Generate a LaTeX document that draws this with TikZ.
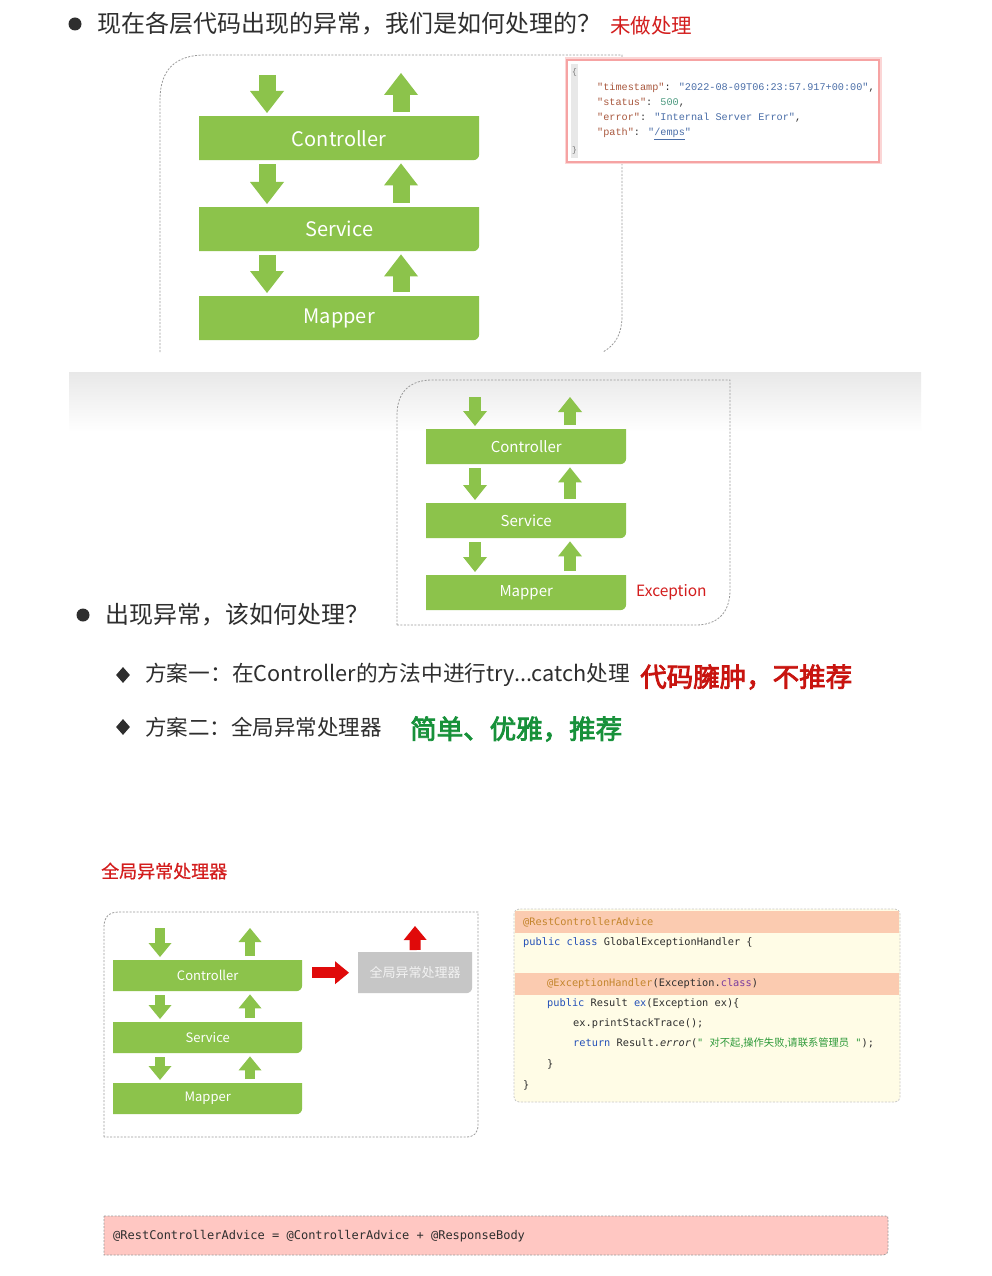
\documentclass[tikz,border=0pt]{standalone}
\usepackage{fontspec}
\setmainfont{Noto Sans CJK SC}
\setmonofont{DejaVu Sans Mono}
\newfontfamily\jsonfont{Liberation Mono}
\newfontfamily\cjk{Noto Sans CJK SC}
\newfontfamily\brushfont{Noto Sans CJK SC}[FakeBold=3]
\newfontfamily\headfont{Noto Sans CJK SC}[FakeBold=0.6]
\usetikzlibrary{arrows.meta,shapes.geometric}
\definecolor{layerGreen}{HTML}{8CC34B}
\definecolor{textDark}{HTML}{2E2E2E}
\definecolor{alertRed}{HTML}{D31D1D}
\definecolor{brushRed}{HTML}{C8140F}
\definecolor{praiseGreen}{HTML}{17913A}
\definecolor{frameGray}{HTML}{9A9A9A}
\definecolor{jsonPink}{HTML}{F6A3A3}
\definecolor{jsonKey}{HTML}{A9583E}
\definecolor{jsonVal}{HTML}{4A6EA8}
\definecolor{jsonNum}{HTML}{4C9A80}
\definecolor{codeBg}{HTML}{FFFCE6}
\definecolor{codeMark}{HTML}{FBCBB0}
\definecolor{codeAnno}{HTML}{C4862E}
\definecolor{codeKw}{HTML}{2450B8}
\definecolor{codePurple}{HTML}{7A3C9E}
\definecolor{codeStr}{HTML}{2E9A3A}
\definecolor{handlerGray}{HTML}{C6C6C6}
\definecolor{noteRose}{HTML}{FFC7C2}
\definecolor{arrowRed}{HTML}{E00A0A}
\tikzset{
  frame/.style={frameGray, line width=0.8pt, dash pattern=on 2pt off 1.5pt},
  cornerfill/.style={path picture={\fill[#1] (path picture bounding box.north west)
    -- (path picture bounding box.north east)
    -- ([yshift=6pt]path picture bounding box.south east)
    arc[start angle=0, end angle=-90, radius=6pt]
    -- (path picture bounding box.south west) -- cycle;}},
  layer/.style={cornerfill=layerGreen, text=white, inner sep=0pt, anchor=north west},
  layerBig/.style={layer, minimum width=280pt, minimum height=44pt, font=\fontsize{20}{24}\selectfont},
  layerMid/.style={layer, minimum width=200pt, minimum height=35pt, font=\fontsize{15}{18}\selectfont},
  layerLow/.style={layer, minimum width=189pt, minimum height=31pt, font=\fontsize{13}{16}\selectfont},
  flowBig/.style={layerGreen, line width=17pt, shorten <=4pt, shorten >=3pt,
    -{Triangle[length=22pt, width=34pt, line width=0pt]}},
  flowMid/.style={layerGreen, line width=12pt, shorten <=4pt, shorten >=3pt,
    -{Triangle[length=15pt, width=24pt, line width=0pt]}},
  flowLow/.style={layerGreen, line width=10pt, shorten <=4pt, shorten >=3pt,
    -{Triangle[length=14pt, width=23pt, line width=0pt]}},
  alarm/.style={arrowRed, line width=11pt,
    -{Triangle[length=14pt, width=23pt, line width=0pt]}},
  txt/.style={anchor=west, inner sep=0pt, text=textDark},
  dot/.style={circle, fill=textDark, minimum size=13pt, inner sep=0pt},
  gem/.style={diamond, fill=textDark, minimum width=14pt, minimum height=16pt, inner sep=0pt},
  json/.style={anchor=west, inner sep=0pt, text=jsonKey, font=\jsonfont\fontsize{10.2}{12}\selectfont},
  code/.style={anchor=west, inner sep=0pt, text=textDark, font=\ttfamily\fontsize{10.3}{12}\selectfont},
}

\begin{document}
\begin{tikzpicture}[x=1pt, y=-1pt]
  \useasboundingbox[fill=white] (0,0) rectangle (991,1276);

  % first question: untreated exception
  \node[dot] (bulA) at (75,24) {};
  \node[txt, font=\fontsize{24}{27}\selectfont] (askA) at (97,24) {现在各层代码出现的异常，我们是如何处理的？};
  \node[txt, text=alertRed, font=\fontsize{20.5}{24}\selectfont] (askAnote) at (610,26) {未做处理};

  \draw[frame] (160,352) -- (160,100) .. controls (160,70) and (175,55) .. (205,55)
    -- (622,55) -- (622,315) .. controls (622,335) and (615,345) .. (603,352);
  \node[layerBig] (ctrlTop) at (199,116) {Controller};
  \node[layerBig] (svcTop) at (199,207) {Service};
  \node[layerBig] (mapTop) at (199,296) {Mapper};
  \coordinate (inTop) at (267,71);
  \coordinate (outTop) at (401,70);
  \draw[flowBig] (inTop) -- ([xshift=68pt]ctrlTop.north west);
  \draw[flowBig] ([xshift=202pt]ctrlTop.north west) -- (outTop);
  \draw[flowBig] ([xshift=68pt]ctrlTop.south west) -- ([xshift=68pt]svcTop.north west);
  \draw[flowBig] ([xshift=202pt]svcTop.north west) -- ([xshift=202pt]ctrlTop.south west);
  \draw[flowBig] ([xshift=68pt]svcTop.south west) -- ([xshift=68pt]mapTop.north west);
  \draw[flowBig] ([xshift=202pt]mapTop.north west) -- ([xshift=202pt]svcTop.south west);

  % default error response
  \draw[jsonPink!45, line width=5pt] (567,60) rectangle (879,162);
  \draw[jsonPink, line width=2pt, fill=white] (567,60) rectangle (879,162);
  \fill[black!9] (571,64) rectangle (578,158);
  \node[inner sep=0pt, text=black!55, font=\jsonfont\fontsize{8}{9}\selectfont] (brOpen) at (574.5,72) {\{};
  \node[inner sep=0pt, text=black!55, font=\jsonfont\fontsize{8}{9}\selectfont] (brClose) at (574.5,150) {\}};
  \node[json] (jsA) at (597,88) {"timestamp"\textcolor{textDark}{: }\textcolor{jsonVal}{"2022-08-09T06:23:57.917+00:00"}\textcolor{textDark}{,}};
  \node[json] (jsB) at (597,103) {"status"\textcolor{textDark}{: }\textcolor{jsonNum}{500}\textcolor{textDark}{,}};
  \node[json] (jsC) at (597,118) {"error"\textcolor{textDark}{: }\textcolor{jsonVal}{"Internal Server Error"}\textcolor{textDark}{,}};
  \node[json] (jsD) at (597,134) {"path"\textcolor{textDark}{: }\textcolor{jsonVal}{"\underline{/emps}"}};

  % second question: how to handle it
  \shade[top color=black!9, bottom color=white] (69,372) rectangle (921,432);
  \draw[frame] (397,625) -- (397,415) .. controls (397,392) and (410,380) .. (432,380)
    -- (730,380) -- (730,590) .. controls (730,612) and (718,625) .. (696,625) -- cycle;
  \node[layerMid] (ctrlMid) at (426,429) {Controller};
  \node[layerMid] (svcMid) at (426,503) {Service};
  \node[layerMid] (mapMid) at (426,575) {Mapper};
  \coordinate (inMid) at (475,393);
  \coordinate (outMid) at (570,394);
  \draw[flowMid] (inMid) -- ([xshift=49pt]ctrlMid.north west);
  \draw[flowMid] ([xshift=144pt]ctrlMid.north west) -- (outMid);
  \draw[flowMid] ([xshift=49pt]ctrlMid.south west) -- ([xshift=49pt]svcMid.north west);
  \draw[flowMid] ([xshift=144pt]svcMid.north west) -- ([xshift=144pt]ctrlMid.south west);
  \draw[flowMid] ([xshift=49pt]svcMid.south west) -- ([xshift=49pt]mapMid.north west);
  \draw[flowMid] ([xshift=144pt]mapMid.north west) -- ([xshift=144pt]svcMid.south west);
  \node[txt, text=alertRed, font=\fontsize{15.5}{18}\selectfont] (exc) at (636,592) {Exception};

  \node[dot] (bulB) at (83,615) {};
  \node[txt, font=\fontsize{24}{27}\selectfont] (askB) at (105,615) {出现异常，该如何处理？};
  \node[gem] (gemA) at (123,675) {};
  \node[txt, font=\fontsize{21.7}{25}\selectfont] (planA) at (145,675) {方案一：在Controller的方法中进行try...catch处理};
  \node[txt, text=brushRed, font=\brushfont\fontsize{26.5}{28}\selectfont] (planAnote) at (640,677) {代码臃肿，不推荐};
  \node[gem] (gemB) at (123,727) {};
  \node[txt, font=\fontsize{21.5}{25}\selectfont] (planB) at (145,727) {方案二：全局异常处理器};
  \node[txt, text=praiseGreen, font=\brushfont\fontsize{26.5}{28}\selectfont] (planBnote) at (410,729) {简单、优雅，推荐};

  % global exception handler
  \node[txt, text=alertRed, font=\headfont\fontsize{18}{21}\selectfont] (globTitle) at (101,871) {全局异常处理器};
  \draw[frame] (104,1137) -- (104,927) .. controls (104,917) and (109,912) .. (119,912)
    -- (478,912) -- (478,1125) .. controls (478,1133) and (474,1137) .. (466,1137) -- cycle;
  \node[layerLow] (ctrlLow) at (113,960) {Controller};
  \node[layerLow] (svcLow) at (113,1022) {Service};
  \node[layerLow] (mapLow) at (113,1083) {Mapper};
  \coordinate (inLow) at (160,924);
  \coordinate (outLow) at (250,925);
  \draw[flowLow] (inLow) -- ([xshift=47pt]ctrlLow.north west);
  \draw[flowLow] ([xshift=137pt]ctrlLow.north west) -- (outLow);
  \draw[flowLow] ([xshift=47pt]ctrlLow.south west) -- ([xshift=47pt]svcLow.north west);
  \draw[flowLow] ([xshift=137pt]svcLow.north west) -- ([xshift=137pt]ctrlLow.south west);
  \draw[flowLow] ([xshift=47pt]svcLow.south west) -- ([xshift=47pt]mapLow.north west);
  \draw[flowLow] ([xshift=137pt]mapLow.north west) -- ([xshift=137pt]svcLow.south west);
  \node[cornerfill=handlerGray, anchor=north west, inner sep=0pt, minimum width=114pt,
    minimum height=41pt, text=white!95!black, font=\fontsize{13}{16}\selectfont] (handler) at (358,952) {全局异常处理器};
  \coordinate (outHandler) at (415,926);
  \draw[alarm, shorten <=10pt, shorten >=9pt] (ctrlLow.east |- handler.west) -- (handler.west);
  \draw[alarm, shorten <=2pt] (handler.north) -- (outHandler);

  % handler code
  \draw[frame, frameGray!55, fill=codeBg, rounded corners=5pt] (514,909) rectangle (900,1102);
  \fill[codeMark] (515,911) rectangle (899,933);
  \fill[codeMark] (515,973) rectangle (899,995);
  \node[code] (cdA) at (523,922) {\textcolor{codeAnno}{@RestControllerAdvice}};
  \node[code] (cdB) at (523,943) {\textcolor{codeKw}{public class} GlobalExceptionHandler \{};
  \node[code] (cdC) at (547,984) {\textcolor{codeAnno}{@ExceptionHandler}(Exception.\textcolor{codePurple}{class})};
  \node[code] (cdD) at (547,1004) {\textcolor{codeKw}{public} Result \textcolor{codeKw}{ex}(Exception ex)\{};
  \node[code] (cdE) at (573,1024) {ex.printStackTrace();};
  \node[code] (cdF) at (573,1043) {\textcolor{codeKw}{return} Result.\textit{error}(\textcolor{codeStr}{" {\cjk 对不起,操作失败,请联系管理员} "});};
  \node[code] (cdG) at (547,1064) {\}};
  \node[code] (cdH) at (523,1085) {\}};

  % annotation equivalence
  \draw[frame, fill=noteRose] (104,1216) -- (885,1216) .. controls (888,1216) .. (888,1219)
    -- (888,1245) .. controls (888,1255) .. (878,1255) -- (104,1255) -- cycle;
  \node[code, font=\ttfamily\fontsize{12}{14}\selectfont] (eqNote) at (113,1236) {@RestControllerAdvice = @ControllerAdvice + @ResponseBody};
\end{tikzpicture}
\end{document}
